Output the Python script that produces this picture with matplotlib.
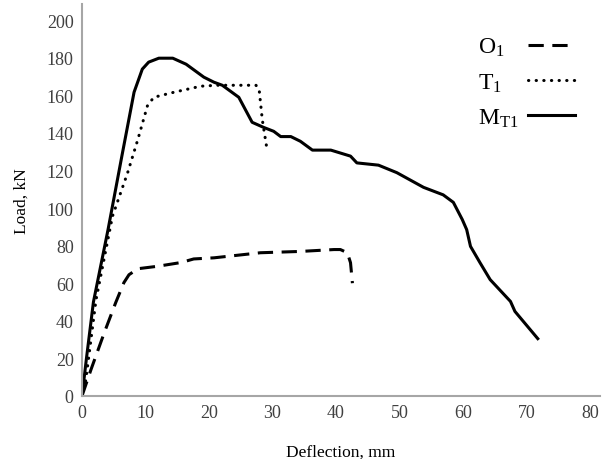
import matplotlib
matplotlib.use('Agg')
import matplotlib.pyplot as plt

plt.rcParams['font.family'] = 'Liberation Serif'
plt.rcParams['mathtext.fontset'] = 'custom'
plt.rcParams['mathtext.rm'] = 'Liberation Serif'
plt.rcParams['mathtext.it'] = 'Liberation Serif'

# O1 specimen (dashed)
o1_x = [0, 0.3, 1.4, 3.5, 5.3, 6.6, 7.4, 8.8, 11.9, 15.6, 17.6, 20.8, 28.1,
        34.4, 39.7, 40.7, 41.8, 42.3, 42.6]
o1_y = [0, 3, 13.9, 33.6, 49.6, 60.3, 64.5, 67.7, 69, 71, 72.9, 73.5, 76.2,
        76.9, 77.9, 77.9, 76.2, 70.9, 60]

# T1 specimen (dotted)
t1_x = [0, 0.6, 2.2, 4.8, 7.2, 8.8, 10.3, 11.3, 14.5, 18.7, 21.3, 27.4,
        27.9, 28.4, 29.2]
t1_y = [0, 8.5, 51, 95.6, 118.9, 136.5, 154.3, 158.9, 161.6, 164.8, 165.3,
        165.3, 163.2, 147, 130]

# MT1 specimen (solid)
mt1_x = [0, 0.7, 1.8, 4.1, 6.3, 8.2, 9.5, 10.5, 12.1, 14.3, 16.4, 19.2, 20.8,
         22.1, 24.7, 26.8, 28.6, 30.2, 31.3, 32.9, 34.4, 36.3, 39.2, 42.3,
         43.3, 46.7, 49.6, 53.8, 56.9, 58.5, 59.9, 60.6, 61.2, 62.7, 64.3,
         67.5, 68.2, 71.8]
mt1_y = [0, 20, 50, 88.5, 128, 161.6, 173.9, 177.6, 179.7, 179.7, 176.5,
         169.6, 166.9, 165.3, 158.9, 145.6, 142.9, 140.8, 138, 138, 135.5,
         130.8, 130.8, 127.6, 124, 122.8, 118.8, 111, 107, 103, 93.9, 88.5,
         79.6, 70.9, 61.9, 50.3, 45, 30.5]

fig = plt.figure(figsize=(6.03, 4.60), dpi=100)
ax = fig.add_axes([0.136, 0.137, 0.859, 0.852])

lw = 2.2
ax.plot(o1_x, o1_y, color='black', lw=lw, linestyle=(0, (5, 2.8)),
        label='O$_1$')
ax.plot(t1_x, t1_y, color='black', lw=lw, linestyle=(0, (0.1, 2.4)),
        dash_capstyle='round', label='T$_1$')
ax.plot(mt1_x, mt1_y, color='black', lw=lw, label='M$_{\\rm T1}$')

ax.set_xlim(0, 81.6)
ax.set_ylim(0, 208.5)
ax.set_xticks(range(0, 81, 10))
ax.set_yticks(range(0, 201, 20))
ax.tick_params(length=0, labelsize=13, colors='#404040', pad=6)
for s in ['top', 'right']:
    ax.spines[s].set_visible(False)
for s in ['left', 'bottom']:
    ax.spines[s].set_color('#a6a6a6')
    ax.spines[s].set_linewidth(1.5)

ax.set_xlabel('Deflection, mm', fontsize=12.5, labelpad=16)
ax.set_ylabel('Load, kN', fontsize=12.5, labelpad=12)

leg = ax.legend(loc='upper left', bbox_to_anchor=(0.773, 0.945),
                bbox_transform=fig.transFigure, frameon=False,
                markerfirst=False, fontsize=17, handlelength=2.0,
                handletextpad=0.3, labelspacing=0.55, borderpad=0)

# left-align legend labels while keeping the handles in one column
fig.canvas.draw()
r = fig.canvas.get_renderer()
widths = [t.get_window_extent(r).width * 72 / fig.dpi for t in leg.get_texts()]
maxw = max(widths)
for col in leg._legend_handle_box.get_children():
    col.align = 'left'
    for row, w in zip(col.get_children(), widths):
        row.sep = 0.4 * 17 + (maxw - w)

fig.savefig('out.png', dpi=100)
